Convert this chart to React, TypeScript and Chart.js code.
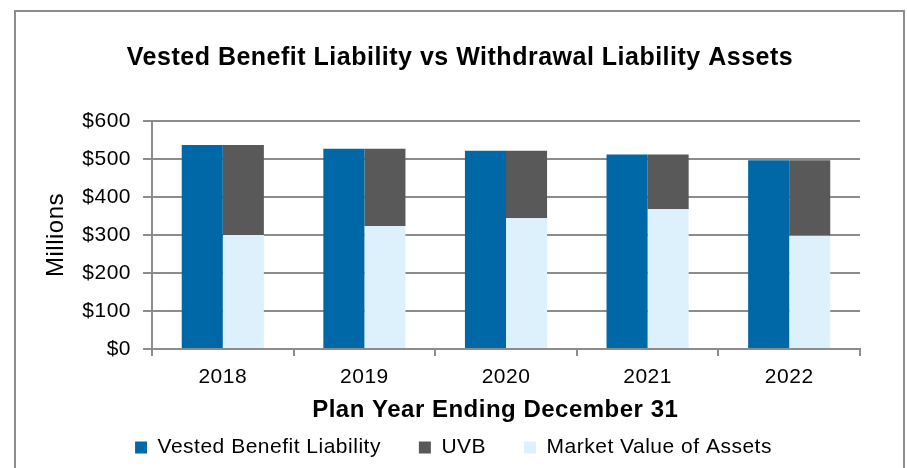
import React, { useEffect, useRef } from 'react';
import { Chart, registerables } from 'chart.js';

Chart.register(...registerables);

const categories = ['2018', '2019', '2020', '2021', '2022'];
const vestedBenefitLiability = [537, 527, 522, 512, 497];
const uvb = [237, 203, 178, 144, 199];
const marketValueOfAssets = [300, 324, 344, 368, 298];
const yMin = 0;
const yMax = 600;
const yStep = 100;
const chartTitle = 'Vested Benefit Liability vs Withdrawal Liability Assets';
const xTitle = 'Plan Year Ending December 31';
const yTitle = 'Millions';
const seriesNames = ['Vested Benefit Liability', 'UVB', 'Market Value of Assets'];

const FONT = "'Liberation Sans', Arial, sans-serif";
const GRID = '#8c8c8c';

export default function App() {
  const ref = useRef<HTMLCanvasElement>(null);

  useEffect(() => {
    document.body.style.margin = '0';
    const canvas = ref.current;
    if (!canvas) return;

    const spacing = {
      id: 'spacing',
      beforeUpdate(c: any) { c.ctx.letterSpacing = '0.5px'; },
      beforeDraw(c: any) { c.ctx.letterSpacing = '0.5px'; },
    };

    const frame = {
      id: 'frame',
      beforeDraw(c: any) {
        const ctx = c.ctx;
        ctx.save();
        ctx.fillStyle = '#ffffff';
        ctx.fillRect(0, 0, c.width, c.height);
        ctx.strokeStyle = '#8c8c8c';
        ctx.lineWidth = 2;
        ctx.strokeRect(15, 11, 889, 470);
        ctx.restore();
      },
    };

    const mainTitle = {
      id: 'mainTitle',
      afterDraw(c: any) {
        const ctx = c.ctx;
        ctx.save();
        ctx.letterSpacing = '0.5px';
        ctx.font = `bold 25px ${FONT}`;
        ctx.fillStyle = '#000';
        ctx.textAlign = 'center';
        ctx.textBaseline = 'middle';
        ctx.fillText(chartTitle, 460, 58.5);
        ctx.restore();
      },
    };

    const legendRank = [0, 2, 1];

    const chart = new Chart(canvas, {
      type: 'bar',
      data: {
        labels: categories,
        datasets: [
          {
            label: seriesNames[0],
            data: vestedBenefitLiability,
            backgroundColor: '#0068a6',
            stack: 'vbl',
            borderWidth: 0,
          },
          {
            label: seriesNames[2],
            data: marketValueOfAssets,
            backgroundColor: '#dcf1fc',
            stack: 'assets',
            borderWidth: 0,
          },
          {
            label: seriesNames[1],
            data: uvb,
            backgroundColor: '#595959',
            stack: 'assets',
            borderWidth: 0,
          },
        ],
      },
      options: {
        responsive: false,
        animation: false,
        devicePixelRatio: 1,
        layout: { padding: { left: 0, right: 0, top: 121, bottom: 0 } },
        datasets: {
          bar: { barPercentage: 1, categoryPercentage: 0.58 },
        },
        plugins: {
          title: { display: false },
          tooltip: { enabled: false },
          legend: {
            position: 'bottom',
            labels: {
              boxWidth: 12,
              boxHeight: 12,
              padding: 38,
              color: '#000',
              font: { family: FONT, size: 21 },
              sort: (a: any, b: any) => legendRank[a.datasetIndex] - legendRank[b.datasetIndex],
            },
          },
        },
        scales: {
          x: {
            stacked: true,
            offset: true,
            grid: {
              display: true,
              offset: true,
              drawOnChartArea: false,
              drawTicks: true,
              tickLength: 7,
              color: GRID,
              lineWidth: 2,
            },
            border: { display: true, color: GRID, width: 2 },
            ticks: {
              color: '#000',
              padding: 8.4,
              font: { family: FONT, size: 21 },
              maxRotation: 0,
            },
            title: {
              display: true,
              text: xTitle + '\u00a0\u00a0\u00a0',
              color: '#000',
              font: { family: FONT, size: 24, weight: 'bold' },
              padding: { top: 0, bottom: -25.4 },
            },
            afterFit: (s: any) => { s.height = 50; },
          },
          y: {
            stacked: true,
            min: yMin,
            max: yMax,
            grid: {
              color: GRID,
              lineWidth: 2,
              tickLength: 9,
              drawTicks: true,
            },
            border: { display: true, color: GRID, width: 2 },
            ticks: {
              stepSize: yStep,
              color: '#000',
              padding: 12,
              font: { family: FONT, size: 21 },
              callback: (v: any) => '$' + v,
            },
            title: {
              display: true,
              text: yTitle,
              color: '#000',
              font: { family: FONT, size: 24 },
              padding: { top: 42.3, bottom: 0 },
            },
            afterFit: (s: any) => { s.width = 152; },
          },
          y2: {
            position: 'right',
            display: true,
            grid: { display: false, drawTicks: false },
            border: { display: false },
            ticks: { display: false },
            afterFit: (s: any) => { s.width = 47; },
          },
        },
      },
      plugins: [spacing, frame, mainTitle],
    } as any);

    return () => chart.destroy();
  }, []);

  return (
    <canvas
      ref={ref}
      width={907}
      height={468}
      style={{ display: 'block', width: 907, height: 468 }}
    />
  );
}
